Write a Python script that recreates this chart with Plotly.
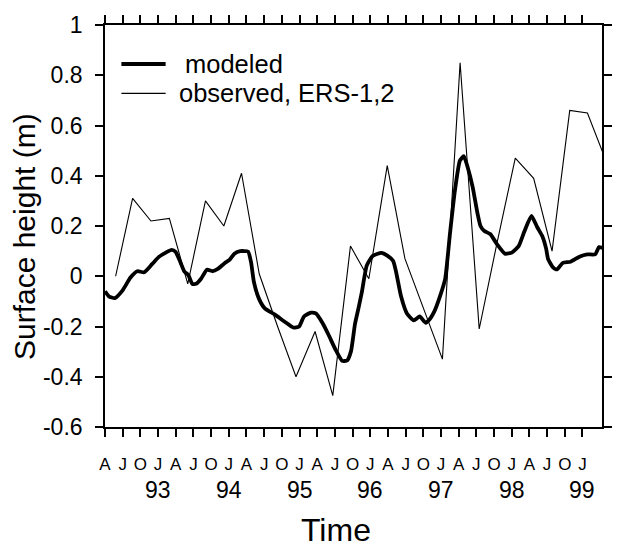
import plotly.graph_objects as go

# ---- data (decimal years) ----
model_t = [1992.250, 1992.305, 1992.389, 1992.499, 1992.610, 1992.707, 1992.804, 1992.915,
           1993.012, 1993.109, 1993.192, 1993.248, 1993.317, 1993.373, 1993.428, 1993.483,
           1993.539, 1993.608, 1993.691, 1993.774, 1993.844, 1993.941, 1994.010, 1994.079,
           1994.162, 1994.273, 1994.315, 1994.356, 1994.426, 1994.509, 1994.647, 1994.786,
           1994.911, 1994.994, 1995.063, 1995.160, 1995.230, 1995.327, 1995.410, 1995.507,
           1995.604, 1995.673, 1995.728, 1995.784, 1995.839, 1995.881, 1995.950, 1996.033,
           1996.158, 1996.241, 1996.324, 1996.366, 1996.435, 1996.518, 1996.615, 1996.699,
           1996.782, 1996.851, 1996.906, 1996.990, 1997.059, 1997.128, 1997.197, 1997.267,
           1997.322, 1997.377, 1997.447, 1997.516, 1997.558, 1997.613, 1997.696, 1997.793,
           1997.904, 1998.001, 1998.098, 1998.181, 1998.278, 1998.361, 1998.431, 1998.486,
           1998.514, 1998.583, 1998.639, 1998.722, 1998.833, 1998.957, 1999.068, 1999.179,
           1999.235, 1999.290]
model_h = [-0.060, -0.080, -0.087, -0.056, -0.005, 0.020, 0.016, 0.048,
           0.077, 0.094, 0.105, 0.097, 0.055, 0.018, 0.005, -0.030,
           -0.030, -0.010, 0.026, 0.020, 0.029, 0.052, 0.065, 0.090,
           0.100, 0.098, 0.055, -0.024, -0.089, -0.128, -0.152, -0.180,
           -0.204, -0.200, -0.160, -0.145, -0.148, -0.187, -0.233, -0.291,
           -0.337, -0.335, -0.298, -0.190, -0.120, -0.063, 0.042, 0.081,
           0.093, 0.082, 0.061, 0.016, -0.080, -0.148, -0.176, -0.160,
           -0.185, -0.167, -0.140, -0.076, -0.010, 0.173, 0.342, 0.460,
           0.478, 0.434, 0.356, 0.250, 0.200, 0.180, 0.168, 0.127,
           0.090, 0.094, 0.120, 0.180, 0.240, 0.195, 0.160, 0.110,
           0.068, 0.035, 0.027, 0.053, 0.058, 0.078, 0.087, 0.087,
           0.116, 0.112]

obs_t = [1992.40, 1992.64, 1992.90, 1993.16, 1993.42, 1993.67, 1993.93, 1994.18,
         1994.43, 1994.69, 1994.95, 1995.22, 1995.47, 1995.72, 1995.98, 1996.24,
         1996.49, 1996.75, 1997.02, 1997.27, 1997.54, 1997.79, 1998.05, 1998.31,
         1998.57, 1998.82, 1999.07, 1999.29]
obs_h = [0.00, 0.31, 0.22, 0.23, -0.03, 0.30, 0.20, 0.41,
         0.01, -0.20, -0.40, -0.22, -0.475, 0.12, -0.01, 0.44,
         0.07, -0.13, -0.33, 0.85, -0.21, 0.13, 0.47, 0.39,
         0.10, 0.66, 0.65, 0.49]

quarter_ticks = [1992.25 + 0.25 * i for i in range(28)]
quarter_labels = ["A", "J", "O"] + ["J", "A", "J", "O"] * 6 + ["J"]
year_vals = [1993, 1994, 1995, 1996, 1997, 1998, 1999]
year_labels = ["93", "94", "95", "96", "97", "98", "99"]
y_ticks = [-0.6, -0.4, -0.2, 0, 0.2, 0.4, 0.6, 0.8, 1]
y_labels = ["-0.6", "-0.4", "-0.2", "0", "0.2", "0.4", "0.6", "0.8", "1"]
series_names = ["modeled", "observed, ERS-1,2"]
series_widths = [3.8, 1.1]

FONT = "Liberation Sans, Arial, Helvetica, sans-serif"

fig = go.Figure()
fig.add_trace(go.Scatter(x=model_t, y=model_h, mode="lines", name=series_names[0],
                         showlegend=False,
                         line=dict(color="black", width=series_widths[0], shape="spline", smoothing=0.5)))
fig.add_trace(go.Scatter(x=obs_t, y=obs_h, mode="lines", name=series_names[1],
                         showlegend=False,
                         line=dict(color="black", width=series_widths[1])))

fig.update_layout(
    width=624, height=548,
    margin=dict(l=105, r=12, t=19, b=121),
    paper_bgcolor="white", plot_bgcolor="white",
    font=dict(family=FONT, color="black"),
)
fig.update_xaxes(
    range=[1992.25, 1999.276], showgrid=False, zeroline=False,
    showline=True, linecolor="black", linewidth=1.6, mirror="allticks",
    ticks="outside", ticklen=8, tickwidth=1.5, tickcolor="black",
    tickvals=quarter_ticks, ticktext=quarter_labels,
    tickfont=dict(size=17, family=FONT), ticklabelstandoff=13,
)
fig.update_yaxes(
    range=[-0.6, 1.0], showgrid=False, zeroline=False,
    showline=True, linecolor="black", linewidth=1.6, mirror="allticks",
    ticks="outside", ticklen=8, tickwidth=1.5, tickcolor="black",
    tickvals=y_ticks, ticktext=y_labels,
    tickfont=dict(size=23, family=FONT), ticklabelstandoff=8,
)

# custom legend (longer line samples as in the original)
legend_rows = [0.903, 0.83]
for name, w, yy, dx in zip(series_names, series_widths, legend_rows, [0.0, -0.012]):
    fig.add_shape(type="line", xref="paper", yref="paper", x0=0.033, x1=0.122, y0=yy, y1=yy,
                  line=dict(color="black", width=w))
    fig.add_annotation(x=0.157 + dx, y=yy, xref="paper", yref="paper", text=name,
                       showarrow=False, font=dict(size=25.5, family=FONT),
                       xanchor="left", yanchor="middle")

for v, lab in zip(year_vals, year_labels):
    fig.add_annotation(x=v, y=-0.157, xref="x", yref="paper", text=lab, showarrow=False,
                       font=dict(size=23, family=FONT), xanchor="center", yanchor="middle")

fig.add_annotation(x=-0.163, y=0.475, xref="paper", yref="paper", text="Surface height (m)",
                   textangle=-90, showarrow=False, font=dict(size=30, family=FONT),
                   xanchor="center", yanchor="middle")
fig.add_annotation(x=0.4655, y=-0.257, xref="paper", yref="paper", text="Time",
                   showarrow=False, font=dict(size=32, family=FONT),
                   xanchor="center", yanchor="middle")

fig.write_html("out.html")
